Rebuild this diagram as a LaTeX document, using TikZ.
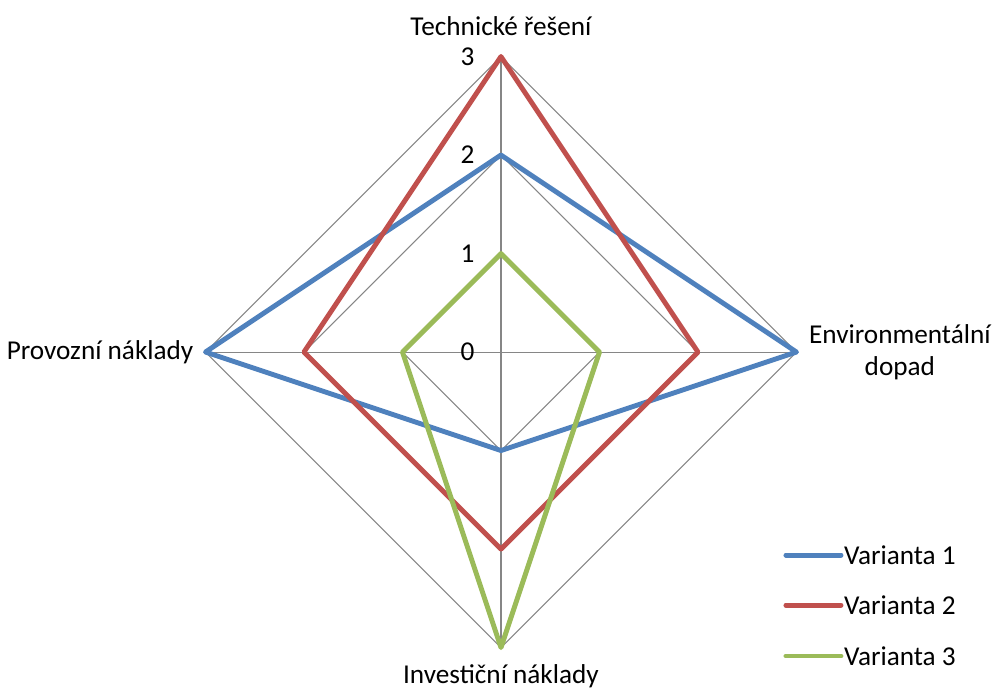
\documentclass[tikz,border=0pt]{standalone}
\usepackage{fontspec}
\setmainfont{Carlito}
\usepackage{tikz}

\definecolor{serieA}{HTML}{4F81BD}
\definecolor{serieB}{HTML}{C0504D}
\definecolor{serieC}{HTML}{9BBB59}
\definecolor{gridgray}{HTML}{868686}

\tikzset{
    gridline/.style={draw=gridgray, line width=0.6pt},
    serie/.style={line width=2.8pt, line join=round, line cap=round},
    axislabel/.style={font=\fontsize{15.5}{18.5}\selectfont, align=center, inner sep=0pt},
    ticklabel/.style={font=\fontsize{15.5}{18.5}\selectfont, inner sep=0pt}
}

\begin{document}
\begin{tikzpicture}[x=1.97cm, y=1.97cm]
        \useasboundingbox (-5.086,-3.421) rectangle (4.995,3.574);
            %Grid diamonds
        \foreach \r in {1,2,3}
        \draw[gridline] (90:\r) -- (0:\r) -- (270:\r) -- (180:\r) -- cycle;
            %Spokes
        \foreach \a in {0, 90, 180, 270}
        \draw[gridline] (0,0) -- (\a:3);
            %Tick labels
        \foreach \r in {0,1,2,3}
        \node[ticklabel] (tick\r) at (-0.34, \r) {\r};
            %Axis labels
        \node[axislabel] (tech) at (0, 3.31) {Technické řešení};
        \node[axislabel] (env) at (4.05, 0) {Environmentální\\dopad};
        \node[axislabel] (inv) at (0, -3.29) {Investiční náklady};
        \node[axislabel] (prov) at (-4.07, 0) {Provozní náklady};
            %Variants
        \draw[serie, serieA] (90:2) -- (0:3) -- (270:1) -- (180:3) -- cycle;
        \draw[serie, serieB] (90:3) -- (0:2) -- (270:2) -- (180:2) -- cycle;
        \draw[serie, serieC] (90:1) -- (0:1) -- (270:3) -- (180:1) -- cycle;
            %Legend
        \foreach \i/\c/\y in {1/serieA/-2.061, 2/serieB/-2.569, 3/serieC/-3.086}
        {
        \draw[serie, \c] (2.893, \y) -- (3.452, \y);
        \node[ticklabel, anchor=west] (leg\i) at (3.48, \y) {Varianta \i};
        }
    \end{tikzpicture}
\end{document}
